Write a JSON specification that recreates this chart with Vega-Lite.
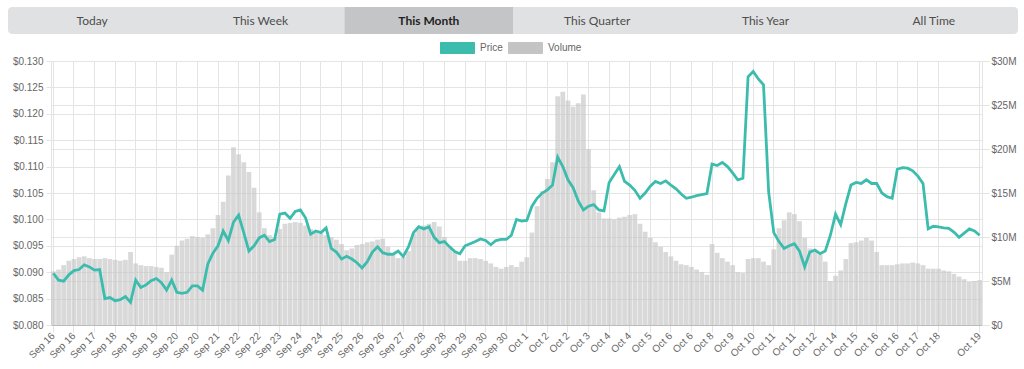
{
  "$schema": "https://vega.github.io/schema/vega-lite/v6.json",
  "padding": {"left": 7, "top": 7, "right": 0, "bottom": 0},
  "background": "white",
  "config": {"view": {"stroke": null}, "font": "Liberation Sans"},
  "vconcat": [
    {
      "width": 967,
      "height": 27,
      "data": {"values": [
        {"tab": "Today", "start": 0, "end": 1, "mid": 0.5, "sel": 0},
        {"tab": "This Week", "start": 1, "end": 2, "mid": 1.5, "sel": 0},
        {"tab": "This Month", "start": 2, "end": 3, "mid": 2.5, "sel": 1},
        {"tab": "This Quarter", "start": 3, "end": 4, "mid": 3.5, "sel": 0},
        {"tab": "This Year", "start": 4, "end": 5, "mid": 4.5, "sel": 0},
        {"tab": "All Time", "start": 5, "end": 6, "mid": 5.5, "sel": 0}
      ]},
      "encoding": {
        "x": {"field": "start", "type": "quantitative", "scale": {"domain": [0.25545, 6], "nice": false, "zero": false}, "axis": null}
      },
      "layer": [
        {
          "transform": [{"aggregate": [{"op": "min", "field": "start", "as": "start"}, {"op": "max", "field": "end", "as": "end"}]}],
          "mark": {"type": "rect", "clip": false, "cornerRadius": 4, "color": "#e0e1e2"},
          "encoding": {
            "x2": {"field": "end"}
          }
        },
        {
          "transform": [{"filter": "datum.sel == 1"}],
          "mark": {"type": "rect", "clip": false, "color": "#c4c5c6"},
          "encoding": {
            "x2": {"field": "end"}
          }
        },
        {
          "transform": [{"filter": "datum.sel == 0"}],
          "mark": {"type": "text", "font": "Lato", "fontSize": 12, "color": "#4d4d4d", "baseline": "middle", "clip": false},
          "encoding": {
            "x": {"field": "mid", "type": "quantitative"},
            "text": {"field": "tab"}
          }
        },
        {
          "transform": [{"filter": "datum.sel == 1"}],
          "mark": {"type": "text", "font": "Lato", "fontSize": 12, "fontWeight": "bold", "color": "#222222", "baseline": "middle", "clip": false},
          "encoding": {
            "x": {"field": "mid", "type": "quantitative"},
            "text": {"field": "tab"}
          }
        }
      ]
    },
    {
      "width": 931,
      "height": 264,
      "data": {"values": [
        {"t": "Sep 16|0", "p": 0.0898, "v": 6.1},
        {"t": "Sep 16|1", "p": 0.0885, "v": 6.3},
        {"t": "Sep 16|2", "p": 0.0883, "v": 6.8},
        {"t": "Sep 16|3", "p": 0.0895, "v": 7.3},
        {"t": "Sep 16|4", "p": 0.0903, "v": 7.5},
        {"t": "Sep 16|5", "p": 0.0905, "v": 7.7},
        {"t": "Sep 16|6", "p": 0.0914, "v": 7.8},
        {"t": "Sep 16|7", "p": 0.0910, "v": 7.6},
        {"t": "Sep 17|8", "p": 0.0904, "v": 7.5},
        {"t": "Sep 17|9", "p": 0.0905, "v": 7.5},
        {"t": "Sep 17|10", "p": 0.0850, "v": 7.6},
        {"t": "Sep 17|11", "p": 0.0852, "v": 7.5},
        {"t": "Sep 18|12", "p": 0.0846, "v": 7.4},
        {"t": "Sep 18|13", "p": 0.0848, "v": 7.3},
        {"t": "Sep 18|14", "p": 0.0854, "v": 7.4},
        {"t": "Sep 18|15", "p": 0.0843, "v": 8.3},
        {"t": "Sep 18|16", "p": 0.0885, "v": 7.0},
        {"t": "Sep 18|17", "p": 0.0871, "v": 6.8},
        {"t": "Sep 18|18", "p": 0.0876, "v": 6.7},
        {"t": "Sep 18|19", "p": 0.0884, "v": 6.7},
        {"t": "Sep 19|20", "p": 0.0888, "v": 6.6},
        {"t": "Sep 19|21", "p": 0.0880, "v": 6.5},
        {"t": "Sep 19|22", "p": 0.0866, "v": 6.0},
        {"t": "Sep 19|23", "p": 0.0885, "v": 8.0},
        {"t": "Sep 20|24", "p": 0.0862, "v": 9.0},
        {"t": "Sep 20|25", "p": 0.0860, "v": 9.6},
        {"t": "Sep 20|26", "p": 0.0862, "v": 9.8},
        {"t": "Sep 20|27", "p": 0.0874, "v": 10.1},
        {"t": "Sep 20|28", "p": 0.0874, "v": 10.0},
        {"t": "Sep 20|29", "p": 0.0866, "v": 9.9},
        {"t": "Sep 20|30", "p": 0.0915, "v": 10.3},
        {"t": "Sep 20|31", "p": 0.0936, "v": 11.0},
        {"t": "Sep 21|32", "p": 0.0950, "v": 12.5},
        {"t": "Sep 21|33", "p": 0.0978, "v": 14.0},
        {"t": "Sep 21|34", "p": 0.0960, "v": 17.0},
        {"t": "Sep 21|35", "p": 0.0995, "v": 20.2},
        {"t": "Sep 22|36", "p": 0.1008, "v": 19.4},
        {"t": "Sep 22|37", "p": 0.0975, "v": 18.5},
        {"t": "Sep 22|38", "p": 0.0940, "v": 17.4},
        {"t": "Sep 22|39", "p": 0.0950, "v": 15.6},
        {"t": "Sep 22|40", "p": 0.0965, "v": 12.8},
        {"t": "Sep 22|41", "p": 0.0970, "v": 11.0},
        {"t": "Sep 22|42", "p": 0.0958, "v": 10.2},
        {"t": "Sep 22|43", "p": 0.0962, "v": 10.0},
        {"t": "Sep 23|44", "p": 0.1010, "v": 10.9},
        {"t": "Sep 23|45", "p": 0.1012, "v": 11.5},
        {"t": "Sep 23|46", "p": 0.1002, "v": 11.6},
        {"t": "Sep 23|47", "p": 0.1015, "v": 11.7},
        {"t": "Sep 24|48", "p": 0.1018, "v": 11.6},
        {"t": "Sep 24|49", "p": 0.1003, "v": 11.3},
        {"t": "Sep 24|50", "p": 0.0972, "v": 10.9},
        {"t": "Sep 24|51", "p": 0.0978, "v": 10.7},
        {"t": "Sep 24|52", "p": 0.0975, "v": 10.4},
        {"t": "Sep 24|53", "p": 0.0984, "v": 10.2},
        {"t": "Sep 24|54", "p": 0.0945, "v": 10.0},
        {"t": "Sep 24|55", "p": 0.0938, "v": 9.7},
        {"t": "Sep 25|56", "p": 0.0925, "v": 9.2},
        {"t": "Sep 25|57", "p": 0.0930, "v": 8.5},
        {"t": "Sep 25|58", "p": 0.0925, "v": 8.7},
        {"t": "Sep 25|59", "p": 0.0918, "v": 9.1},
        {"t": "Sep 26|60", "p": 0.0908, "v": 9.2},
        {"t": "Sep 26|61", "p": 0.0920, "v": 9.4},
        {"t": "Sep 26|62", "p": 0.0938, "v": 9.5},
        {"t": "Sep 26|63", "p": 0.0948, "v": 9.7},
        {"t": "Sep 26|64", "p": 0.0937, "v": 9.8},
        {"t": "Sep 26|65", "p": 0.0934, "v": 8.9},
        {"t": "Sep 26|66", "p": 0.0934, "v": 8.0},
        {"t": "Sep 26|67", "p": 0.0940, "v": 7.6},
        {"t": "Sep 27|68", "p": 0.0930, "v": 7.7},
        {"t": "Sep 27|69", "p": 0.0948, "v": 8.4},
        {"t": "Sep 27|70", "p": 0.0975, "v": 10.4},
        {"t": "Sep 27|71", "p": 0.0986, "v": 11.0},
        {"t": "Sep 28|72", "p": 0.0982, "v": 11.3},
        {"t": "Sep 28|73", "p": 0.0986, "v": 11.5},
        {"t": "Sep 28|74", "p": 0.0966, "v": 11.7},
        {"t": "Sep 28|75", "p": 0.0956, "v": 11.2},
        {"t": "Sep 28|76", "p": 0.0958, "v": 10.0},
        {"t": "Sep 28|77", "p": 0.0948, "v": 9.0},
        {"t": "Sep 28|78", "p": 0.0939, "v": 8.3},
        {"t": "Sep 28|79", "p": 0.0935, "v": 7.3},
        {"t": "Sep 29|80", "p": 0.0950, "v": 7.3},
        {"t": "Sep 29|81", "p": 0.0954, "v": 7.6},
        {"t": "Sep 29|82", "p": 0.0958, "v": 7.6},
        {"t": "Sep 29|83", "p": 0.0963, "v": 7.5},
        {"t": "Sep 30|84", "p": 0.0960, "v": 7.3},
        {"t": "Sep 30|85", "p": 0.0952, "v": 7.0},
        {"t": "Sep 30|86", "p": 0.0960, "v": 6.6},
        {"t": "Sep 30|87", "p": 0.0962, "v": 6.4},
        {"t": "Sep 30|88", "p": 0.0962, "v": 6.6},
        {"t": "Sep 30|89", "p": 0.0970, "v": 6.8},
        {"t": "Sep 30|90", "p": 0.1000, "v": 6.6},
        {"t": "Sep 30|91", "p": 0.0997, "v": 7.2},
        {"t": "Oct 1|92", "p": 0.0998, "v": 7.7},
        {"t": "Oct 1|93", "p": 0.1025, "v": 10.5},
        {"t": "Oct 1|94", "p": 0.1040, "v": 13.5},
        {"t": "Oct 1|95", "p": 0.1050, "v": 15.2},
        {"t": "Oct 2|96", "p": 0.1056, "v": 16.6},
        {"t": "Oct 2|97", "p": 0.1065, "v": 18.5},
        {"t": "Oct 2|98", "p": 0.1118, "v": 26.0},
        {"t": "Oct 2|99", "p": 0.1100, "v": 26.5},
        {"t": "Oct 2|100", "p": 0.1075, "v": 25.5},
        {"t": "Oct 2|101", "p": 0.1060, "v": 24.8},
        {"t": "Oct 2|102", "p": 0.1035, "v": 25.2},
        {"t": "Oct 2|103", "p": 0.1018, "v": 26.2},
        {"t": "Oct 3|104", "p": 0.1025, "v": 20.0},
        {"t": "Oct 3|105", "p": 0.1028, "v": 15.3},
        {"t": "Oct 3|106", "p": 0.1018, "v": 12.8},
        {"t": "Oct 3|107", "p": 0.1016, "v": 12.1},
        {"t": "Oct 4|108", "p": 0.1070, "v": 12.1},
        {"t": "Oct 4|109", "p": 0.1085, "v": 12.0},
        {"t": "Oct 4|110", "p": 0.1100, "v": 12.2},
        {"t": "Oct 4|111", "p": 0.1072, "v": 12.3},
        {"t": "Oct 4|112", "p": 0.1065, "v": 12.5},
        {"t": "Oct 4|113", "p": 0.1055, "v": 12.6},
        {"t": "Oct 4|114", "p": 0.1040, "v": 11.5},
        {"t": "Oct 4|115", "p": 0.1050, "v": 10.6},
        {"t": "Oct 5|116", "p": 0.1063, "v": 9.9},
        {"t": "Oct 5|117", "p": 0.1072, "v": 9.4},
        {"t": "Oct 5|118", "p": 0.1068, "v": 8.9},
        {"t": "Oct 5|119", "p": 0.1073, "v": 8.3},
        {"t": "Oct 6|120", "p": 0.1065, "v": 7.8},
        {"t": "Oct 6|121", "p": 0.1058, "v": 7.3},
        {"t": "Oct 6|122", "p": 0.1048, "v": 6.9},
        {"t": "Oct 6|123", "p": 0.1040, "v": 6.8},
        {"t": "Oct 6|124", "p": 0.1042, "v": 6.6},
        {"t": "Oct 6|125", "p": 0.1045, "v": 6.3},
        {"t": "Oct 6|126", "p": 0.1047, "v": 6.0},
        {"t": "Oct 6|127", "p": 0.1049, "v": 5.7},
        {"t": "Oct 8|128", "p": 0.1105, "v": 9.2},
        {"t": "Oct 8|129", "p": 0.1102, "v": 8.2},
        {"t": "Oct 8|130", "p": 0.1108, "v": 7.6},
        {"t": "Oct 8|131", "p": 0.1100, "v": 7.2},
        {"t": "Oct 9|132", "p": 0.1088, "v": 6.8},
        {"t": "Oct 9|133", "p": 0.1075, "v": 6.0},
        {"t": "Oct 9|134", "p": 0.1078, "v": 5.9},
        {"t": "Oct 9|135", "p": 0.1270, "v": 7.5},
        {"t": "Oct 10|136", "p": 0.1280, "v": 7.6},
        {"t": "Oct 10|137", "p": 0.1266, "v": 7.6},
        {"t": "Oct 10|138", "p": 0.1255, "v": 7.2},
        {"t": "Oct 10|139", "p": 0.1052, "v": 6.8},
        {"t": "Oct 11|140", "p": 0.0975, "v": 8.6},
        {"t": "Oct 11|141", "p": 0.0958, "v": 11.0},
        {"t": "Oct 11|142", "p": 0.0945, "v": 11.9},
        {"t": "Oct 11|143", "p": 0.0950, "v": 12.8},
        {"t": "Oct 11|144", "p": 0.0954, "v": 12.6},
        {"t": "Oct 11|145", "p": 0.0940, "v": 11.8},
        {"t": "Oct 11|146", "p": 0.0910, "v": 9.9},
        {"t": "Oct 11|147", "p": 0.0938, "v": 8.7},
        {"t": "Oct 12|148", "p": 0.0942, "v": 8.3},
        {"t": "Oct 12|149", "p": 0.0935, "v": 8.0},
        {"t": "Oct 12|150", "p": 0.0940, "v": 7.2},
        {"t": "Oct 12|151", "p": 0.0970, "v": 5.0},
        {"t": "Oct 14|152", "p": 0.1010, "v": 5.6},
        {"t": "Oct 14|153", "p": 0.0990, "v": 6.2},
        {"t": "Oct 14|154", "p": 0.1030, "v": 7.5},
        {"t": "Oct 14|155", "p": 0.1065, "v": 9.3},
        {"t": "Oct 15|156", "p": 0.1070, "v": 9.4},
        {"t": "Oct 15|157", "p": 0.1068, "v": 9.6},
        {"t": "Oct 15|158", "p": 0.1075, "v": 9.9},
        {"t": "Oct 15|159", "p": 0.1068, "v": 9.6},
        {"t": "Oct 16|160", "p": 0.1068, "v": 8.3},
        {"t": "Oct 16|161", "p": 0.1050, "v": 6.8},
        {"t": "Oct 16|162", "p": 0.1043, "v": 6.8},
        {"t": "Oct 16|163", "p": 0.1040, "v": 6.8},
        {"t": "Oct 16|164", "p": 0.1095, "v": 6.9},
        {"t": "Oct 16|165", "p": 0.1098, "v": 7.0},
        {"t": "Oct 16|166", "p": 0.1097, "v": 7.0},
        {"t": "Oct 16|167", "p": 0.1092, "v": 7.1},
        {"t": "Oct 17|168", "p": 0.1082, "v": 7.0},
        {"t": "Oct 17|169", "p": 0.1068, "v": 6.8},
        {"t": "Oct 17|170", "p": 0.0982, "v": 6.4},
        {"t": "Oct 17|171", "p": 0.0987, "v": 6.4},
        {"t": "Oct 18|172", "p": 0.0986, "v": 6.4},
        {"t": "Oct 18|173", "p": 0.0984, "v": 6.2},
        {"t": "Oct 18|174", "p": 0.0983, "v": 6.1},
        {"t": "Oct 18|175", "p": 0.0976, "v": 5.8},
        {"t": "Oct 18|176", "p": 0.0966, "v": 5.5},
        {"t": "Oct 18|177", "p": 0.0974, "v": 5.2},
        {"t": "Oct 18|178", "p": 0.0982, "v": 4.9},
        {"t": "Oct 18|179", "p": 0.0978, "v": 5.0},
        {"t": "Oct 19|180", "p": 0.0970, "v": 5.1}
      ]},
      "encoding": {
        "x": {
          "field": "t",
          "type": "ordinal",
          "sort": null,
          "scale": {"paddingInner": 0.08, "paddingOuter": 0},
          "axis": {
            "title": null,
            "values": ["Sep 16|0","Sep 16|4","Sep 17|8","Sep 18|12","Sep 18|16","Sep 19|20","Sep 20|24","Sep 20|28","Sep 21|32","Sep 22|36","Sep 22|40","Sep 23|44","Sep 24|48","Sep 24|52","Sep 25|56","Sep 26|60","Sep 26|64","Sep 27|68","Sep 28|72","Sep 28|76","Sep 29|80","Sep 30|84","Sep 30|88","Oct 1|92","Oct 2|96","Oct 2|100","Oct 3|104","Oct 4|108","Oct 4|112","Oct 5|116","Oct 6|120","Oct 6|124","Oct 8|128","Oct 9|132","Oct 10|136","Oct 11|140","Oct 11|144","Oct 12|148","Oct 14|152","Oct 15|156","Oct 16|160","Oct 16|164","Oct 17|168","Oct 18|172","Oct 19|180"],
            "labelExpr": "split(datum.label, '|')[0]",
            "labelAngle": -45,
            "labelAlign": "right",
            "labelBaseline": "middle",
            "labelOverlap": false,
            "labelBound": false,
            "labelFontSize": 10,
            "labelColor": "#666666",
            "labelPadding": 2,
            "bandPosition": 0.5,
            "grid": true,
            "gridColor": "#e4e4e4",
            "tickColor": "#e4e4e4",
            "tickSize": 7,
            "domainColor": "#bbbbbb"
          }
        }
      },
      "layer": [
        {
          "mark": {"type": "bar", "opacity": 0.65},
          "encoding": {
            "y": {
              "field": "v",
              "type": "quantitative",
              "scale": {"domain": [0, 30], "nice": false},
              "axis": {
                "orient": "right",
                "title": null,
                "values": [0, 5, 10, 15, 20, 25, 30],
                "labelExpr": "datum.value == 0 ? '$0' : '$' + datum.value + 'M'",
                "grid": true,
                "gridColor": "#e4e4e4",
                "tickColor": "#e4e4e4",
                "tickSize": 7,
                "domainColor": "#e4e4e4",
                "labelFontSize": 10,
                "labelColor": "#666666",
                "labelPadding": 2
              }
            },
            "color": {
              "datum": "Volume",
              "scale": {"domain": ["Price", "Volume"], "range": ["#3cbcad", "#c4c4c4"]},
              "legend": {
                "orient": "none",
                "legendX": 396,
                "legendY": -23.5,
                "direction": "horizontal",
                "title": null,
                "symbolType": "M-1.7,-0.55H1.7V0.55H-1.7Z",
                "symbolSize": 400,
                "symbolStrokeWidth": 1,
                "symbolOpacity": 1,
                "labelFontSize": 10,
                "labelColor": "#666666",
                "labelOffset": 12,
                "columnPadding": 3,
                "padding": 0,
                "encode": {"symbols": {"update": {"fill": {"scale": "color", "field": "value"}, "stroke": {"scale": "color", "field": "value"}, "opacity": {"value": 1}}}}
              }
            }
          }
        },
        {
          "mark": {"type": "line", "strokeWidth": 2.8, "interpolate": "linear"},
          "encoding": {
            "y": {
              "field": "p",
              "type": "quantitative",
              "scale": {"domain": [0.08, 0.13], "nice": false, "zero": false},
              "axis": {
                "orient": "left",
                "title": null,
                "values": [0.08, 0.085, 0.09, 0.095, 0.1, 0.105, 0.11, 0.115, 0.12, 0.125, 0.13],
                "format": "$.3f",
                "grid": true,
                "gridColor": "#e4e4e4",
                "tickColor": "#e4e4e4",
                "tickSize": 5,
                "domainColor": "#e4e4e4",
                "labelFontSize": 10,
                "labelColor": "#666666",
                "labelPadding": 3,
                "minExtent": 43
              }
            },
            "color": {"datum": "Price"}
          }
        }
      ],
      "resolve": {"scale": {"y": "independent"}}
    }
  ],
  "spacing": 3,
  "resolve": {"scale": {"color": "independent", "x": "independent"}, "legend": {"color": "independent"}}
}
